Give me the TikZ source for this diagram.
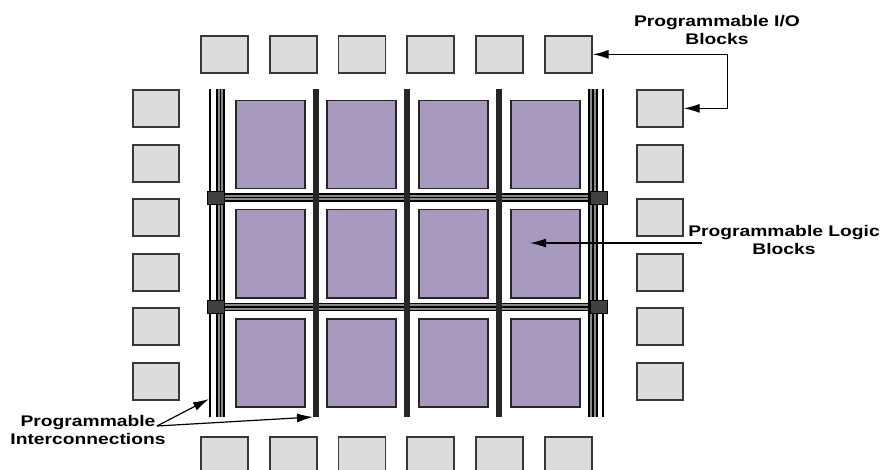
\documentclass[tikz,border=0pt]{standalone}
\usepackage{fontspec}
\newfontfamily\lblfont[FakeStretch=1.25]{Liberation Sans}
\usetikzlibrary{positioning}
\usetikzlibrary{arrows.meta}
\definecolor{iogray}{HTML}{DCDCDC}
\definecolor{ioedge}{HTML}{383838}
\definecolor{logicpurple}{HTML}{A899BF}
\definecolor{busgray}{HTML}{8A8A8A}
\tikzset{iobox/.style = {draw=ioedge, fill=iogray, line width=1.7pt,
                         minimum width=47pt, minimum height=37pt,
                         inner sep=0, anchor=north west}}
\tikzset{logicbox/.style = {draw=black!85, fill=logicpurple, line width=1.5pt,
                            minimum width=69pt, minimum height=88pt,
                            inner sep=0, anchor=north west}}
\tikzset{switchbox/.style = {draw=black, fill=black!75, line width=0.8pt,
                             minimum width=17pt, minimum height=13pt, inner sep=0}}
\tikzset{ptr/.style = {-{Latex[length=16pt,width=9pt]}, line width=1.2pt}}
\tikzset{ptrs/.style = {{Latex[length=16pt,width=9pt]}-{Latex[length=16pt,width=9pt]}, line width=1.2pt}}
\tikzset{lbl/.style = {font=\lblfont\bfseries\fontsize{15.4}{18}\selectfont,
                       align=center, inner sep=0}}
\tikzset{wire/.style = {line width=1.3pt}}

\begin{document}
\begin{tikzpicture}[x=1pt, y=-1pt]
    \clip (0,0) rectangle (882,470);

    % I/O blocks round the edge
    \foreach \i/\x in {1/200,2/269,3/337.5,4/406,5/475,6/544} {
        \node[iobox] (t\i) at (\x,35) {};
        \node[iobox] (b\i) at (\x,436) {};
    }
    \foreach \i/\y in {1/89,2/144,3/198,4/253,5/307,6/362} {
        \node[iobox, minimum width=46pt] (l\i) at (132,\y) {};
        \node[iobox, minimum width=46pt] (r\i) at (636,\y) {};
    }

    % horizontal routing channels
    \foreach \y in {197.5,307} {
        \fill[busgray] (210,\y-3.5) rectangle (603,\y+3.5);
        \foreach \d in {-3.5,0,3.5}
            \draw[line width=1.1pt] (210,\y+\d) -- (603,\y+\d);
    }

    % vertical routing channels
    \draw[wire] (210,89) -- (210,417);
    \fill[busgray] (217,89) rectangle (224,417);
    \foreach \x in {217,220.5,224}
        \draw[line width=1.1pt] (\x,89) -- (\x,417);
    \fill[busgray] (589,89) rectangle (597,417);
    \foreach \x in {589,593,597}
        \draw[line width=1.1pt] (\x,89) -- (\x,417);
    \draw[wire] (603,89) -- (603,417);
    \foreach \x in {315.5,407,499}
        \fill[black!85] (\x-3,89) rectangle (\x+3,417);

    % logic blocks
    \foreach \r/\y in {1/100,2/209,3/318}
        \foreach \c/\x in {1/235,2/326,3/418,4/510}
            \node[logicbox] (p\r\c) at (\x,\y) {};

    % switch boxes
    \foreach \y [count=\k] in {197.5,307} {
        \node[switchbox] (sl\k) at (215.5,\y) {};
        \node[switchbox] (sr\k) at (598.5,\y) {};
    }

    % labels
    \node[lbl] (iolbl) at (717,30) {Programmable I/O\\Blocks};
    \node[lbl] (pllbl) at (784,240) {Programmable Logic\\Blocks};
    \node[lbl] (pilbl) at (88,430) {Programmable\\Interconnections};

    % pointers
    \draw[ptrs] (t6.east) -- ++(135,0) |- (r1.east);
    \coordinate (pltail) at (702,243);
    \coordinate (pltip) at (530,243);
    \draw[ptr] (pltail) -- (pltip);
    \coordinate (pifrom) at (157,426);
    \coordinate (lbus) at (209,399);
    \coordinate (vbar) at (313,417);
    \draw[ptr] (pifrom) -- (lbus);
    \draw[ptr] (pifrom) -- (vbar);
\end{tikzpicture}
\end{document}
